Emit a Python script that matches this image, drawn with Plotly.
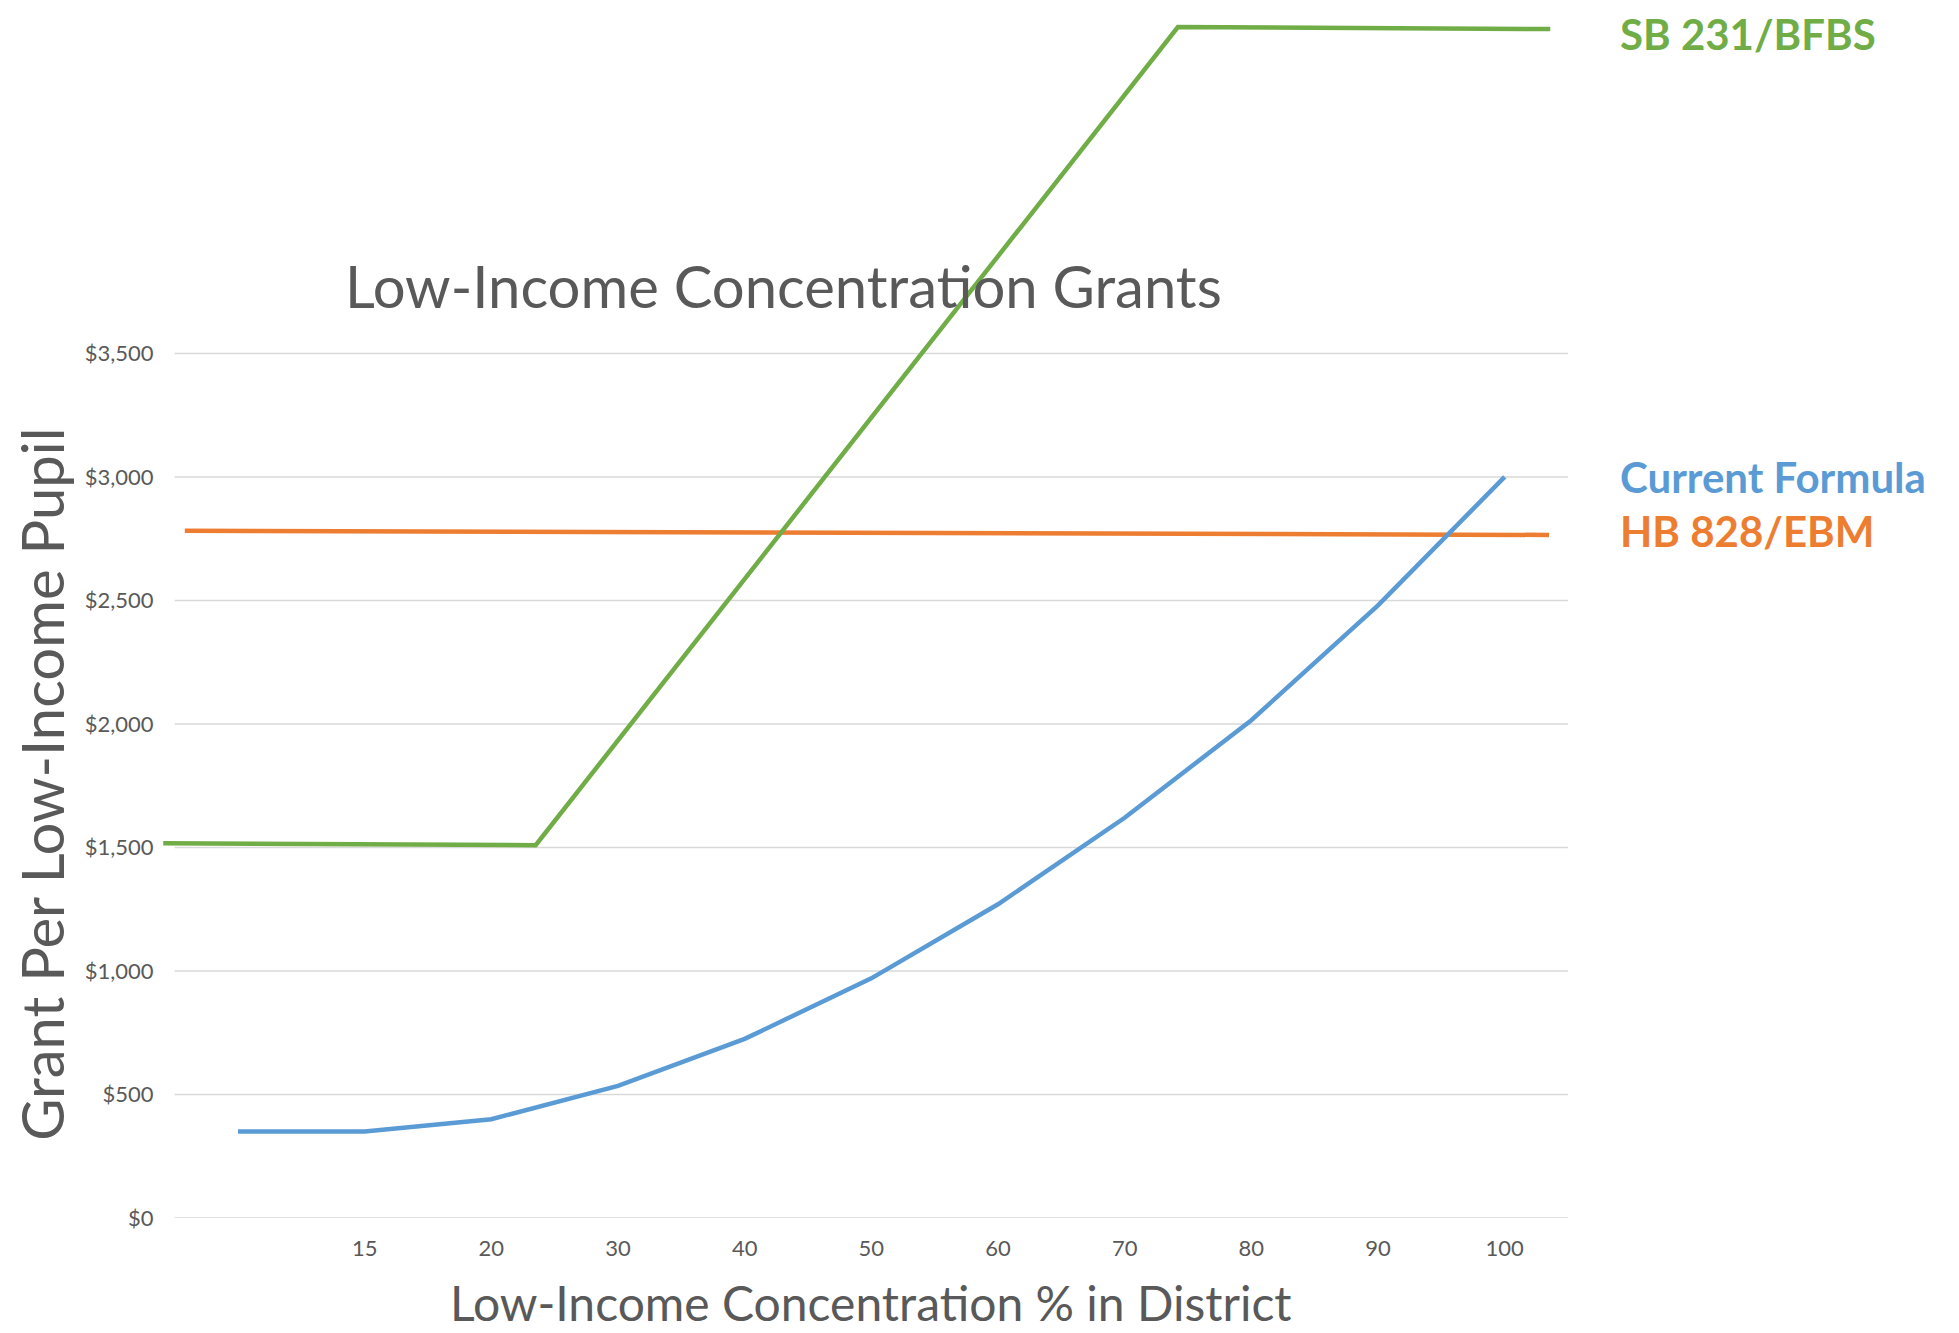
import plotly.graph_objects as go

# ---- data ----
x_labels = ["", "15", "20", "30", "40", "50", "60", "70", "80", "90", "100"]
x_pos = list(range(len(x_labels)))

current_formula = [350, 350, 400, 535, 725, 970, 1270, 1620, 2015, 2480, 3000]

sb231_x = [-0.59, 2.35, 7.42, 10.36]
sb231_y = [1517, 1509, 4821, 4813]

hb828_x = [-0.42, 10.35]
hb828_y = [2782, 2765]

y_ticks = [0, 500, 1000, 1500, 2000, 2500, 3000, 3500]
y_tick_text = ["$0", "$500", "$1,000", "$1,500", "$2,000", "$2,500", "$3,000", "$3,500"]

GREEN = "#70AD47"
BLUE = "#5B9BD5"
ORANGE = "#ED7D31"
GRAY = "#595959"
GRID = "#D9D9D9"
FONT = "Lato"

fig = go.Figure()

# gridlines as shapes (restricted to the category band)
for v in y_ticks:
    fig.add_shape(type="line", xref="x", yref="y", x0=-0.5, x1=10.5, y0=v, y1=v,
                  line=dict(color=GRID, width=1.5), layer="below")

fig.add_trace(go.Scatter(x=hb828_x, y=hb828_y, mode="lines",
                         line=dict(color=ORANGE, width=4.5), name="HB 828/EBM"))
fig.add_trace(go.Scatter(x=sb231_x, y=sb231_y, mode="lines",
                         line=dict(color=GREEN, width=4.5), name="SB 231/BFBS"))
fig.add_trace(go.Scatter(x=x_pos, y=current_formula, mode="lines",
                         line=dict(color=BLUE, width=4.5), name="Current Formula"))

# series labels at right
labels = [("SB 231/BFBS", sb231_y[-1], GREEN, -5),
          ("Current Formula", current_formula[-1], BLUE, 0),
          ("HB 828/EBM", hb828_y[-1], ORANGE, 4)]
for txt, yv, col, ysh in labels:
    fig.add_annotation(text=f"<b>{txt}</b>", xref="paper", yref="y", x=1.0363, y=yv,
                       xanchor="left", yanchor="middle", yshift=ysh, showarrow=False,
                       borderpad=0,
                       font=dict(family=FONT, size=42, color=col))

# chart title
fig.add_annotation(text="Low-Income Concentration Grants", xref="paper", yref="paper",
                   x=0.442, y=0.772, xanchor="center", yanchor="middle", showarrow=False,
                   font=dict(family=FONT, size=58, color=GRAY))
# axis titles
fig.add_annotation(text="Low-Income Concentration % in District", xref="paper", yref="paper",
                   x=0.5045, y=-0.0952, xanchor="center", yanchor="bottom", showarrow=False,
                   font=dict(family=FONT, size=48, color=GRAY))
fig.add_annotation(text="Grant Per Low-Income Pupil", xref="paper", yref="paper",
                   x=-0.0857, y=0.359, xanchor="center", yanchor="middle", showarrow=False,
                   textangle=-90, font=dict(family=FONT, size=58, color=GRAY))

# page body has an 8px default margin: shrink figure and shift margins accordingly
fig.update_layout(
    width=1951, height=1325,
    margin=dict(l=153.5, r=391.1, t=2, b=115),
    paper_bgcolor="white", plot_bgcolor="white",
    showlegend=False,
    font=dict(family=FONT, color=GRAY),
)
fig.update_xaxes(range=[-0.6, 10.5], tickmode="array", tickvals=x_pos, ticktext=x_labels,
                 showgrid=False, zeroline=False, showline=False,
                 ticks="outside", ticklen=11, tickcolor="rgba(0,0,0,0)",
                 tickfont=dict(family=FONT, size=22, color=GRAY))
fig.update_yaxes(range=[0, 4890], tickmode="array", tickvals=y_ticks, ticktext=y_tick_text,
                 showgrid=False, zeroline=False, showline=False,
                 ticks="outside", ticklen=3, tickcolor="rgba(0,0,0,0)",
                 tickfont=dict(family=FONT, size=22, color=GRAY))

fig.write_html("out.html")
